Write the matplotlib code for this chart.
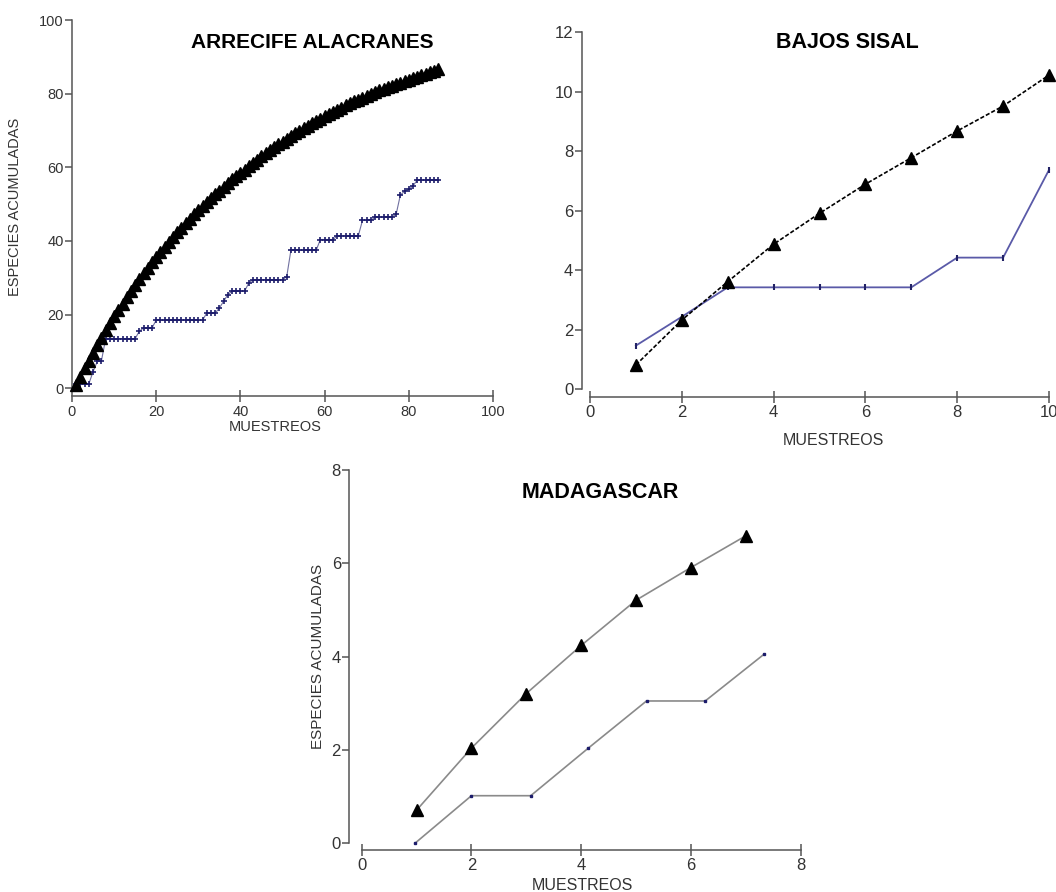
import matplotlib
matplotlib.use('Agg')
import matplotlib.pyplot as plt

plt.rcParams['font.family'] = ['Liberation Sans', 'DejaVu Sans']

# ---- ARRECIFE ALACRANES ----
alac_x = list(range(1, 88))
alac_est = [1.0, 3.2, 5.4, 7.5, 9.6, 11.7, 13.7, 15.7, 17.6, 19.5,
            21.3, 23.0, 24.7, 26.4, 28.0, 29.6, 31.2, 32.7, 34.2, 35.7,
            37.1, 38.5, 39.8, 41.1, 42.4, 43.6, 44.8, 46.0, 47.2, 48.4,
            49.5, 50.6, 51.7, 52.7, 53.7, 54.7, 55.7, 56.7, 57.6, 58.5,
            59.4, 60.3, 61.2, 62.1, 63.0, 63.8, 64.6, 65.4, 66.2, 67.0,
            67.8, 68.5, 69.2, 69.9, 70.6, 71.3, 72.0, 72.6, 73.2, 73.8,
            74.4, 75.0, 75.6, 76.2, 76.8, 77.4, 77.9, 78.4, 78.9, 79.4,
            79.9, 80.4, 80.9, 81.4, 81.8, 82.2, 82.6, 83.0, 83.4, 83.8,
            84.2, 84.6, 85.0, 85.4, 85.8, 86.2, 86.6]
alac_obs = [1.2, 1.2, 1.2, 1.2, 4.5, 7.3, 7.5, 13.5, 13.5, 13.5,
            13.5, 13.5, 13.5, 13.5, 13.5, 15.5, 16.4, 16.4, 16.4, 18.5,
            18.5, 18.5, 18.5, 18.5, 18.5, 18.5, 18.5, 18.5, 18.5, 18.5,
            18.5, 20.4, 20.4, 20.4, 21.8, 23.6, 25.4, 26.4, 26.4, 26.4,
            26.4, 28.6, 29.5, 29.5, 29.5, 29.5, 29.5, 29.5, 29.5, 29.5,
            30.3, 37.5, 37.5, 37.5, 37.5, 37.5, 37.5, 37.5, 40.4, 40.4,
            40.4, 40.4, 41.4, 41.4, 41.4, 41.4, 41.4, 41.4, 45.6, 45.6,
            45.6, 46.5, 46.5, 46.5, 46.5, 46.5, 47.3, 52.5, 53.5, 54.0,
            55.0, 56.5, 56.5, 56.5, 56.5, 56.5, 56.5]

# ---- BAJOS SISAL ----
sisal_x = [1, 2, 3, 4, 5, 6, 7, 8, 9, 10]
sisal_est = [0.81, 2.32, 3.61, 4.87, 5.91, 6.89, 7.78, 8.68, 9.52, 10.56]
sisal_obs = [1.46, 2.43, 3.42, 3.42, 3.42, 3.42, 3.42, 4.42, 4.42, 7.37]

# ---- MADAGASCAR ----
mada_x_est = [1, 2, 3, 4, 5, 6, 7]
mada_est = [0.71, 2.04, 3.21, 4.24, 5.21, 5.91, 6.59]
mada_x_obs = [0.97, 2.0, 3.08, 4.13, 5.19, 6.26, 7.33]
mada_obs = [0.0, 1.02, 1.02, 2.04, 3.05, 3.05, 4.05]

W, H = 1056, 892
fig = plt.figure(figsize=(W / 100, H / 100), dpi=100)


def rect(x0, x1, ytop, y0):
    return [x0 / W, 1 - y0 / H, (x1 - x0) / W, (y0 - ytop) / H]


def style(ax, xmax, ymax, xstep, ystep, xoff, yoff, fs):
    ax.set_xlim(0, xmax)
    ax.set_ylim(0, ymax)
    for s in ['top', 'right']:
        ax.spines[s].set_visible(False)
    ax.spines['bottom'].set_position(('outward', xoff * 0.72))
    ax.spines['left'].set_position(('outward', yoff * 0.72))
    ax.spines['bottom'].set_bounds(0, xmax)
    ax.spines['left'].set_bounds(0, ymax)
    for s in ['bottom', 'left']:
        ax.spines[s].set_color('#555555')
        ax.spines[s].set_linewidth(1.1)
    ax.set_xticks(range(0, xmax + 1, xstep))
    ax.set_yticks(range(0, ymax + 1, ystep))
    ax.tick_params(axis='x', direction='inout', length=8, width=1.1,
                   color='#555555', labelcolor='#333333', labelsize=fs, pad=2)
    ax.tick_params(axis='y', direction='out', length=5, width=1.1,
                   color='#555555', labelcolor='#333333', labelsize=fs, pad=1)
    ax.patch.set_alpha(0)


def ftext(x, y, s, **kw):
    fig.text(x / W, 1 - y / H, s, ha='center', va='center', **kw)


# panel 1
ax1 = fig.add_axes(rect(72, 493, 20, 388.3))
style(ax1, 100, 100, 20, 20, 8, 0, 10.5)
ax1.plot(alac_x, alac_obs, color='#7070a0', lw=0.8, marker='+', ms=4,
         mew=1.2, mec='#1c1c6b', clip_on=False, zorder=2)
ax1.plot(alac_x, alac_est, color='black', lw=1.2, marker='^', ms=9,
         mfc='black', mec='black', clip_on=False, zorder=3)
ftext(312, 42, 'ARRECIFE ALACRANES', fontsize=15, fontweight='bold')
ftext(15, 207, 'ESPECIES ACUMULADAS', fontsize=10.5, color='#333333', rotation=90)
ftext(275, 427, 'MUESTREOS', fontsize=10.5, color='#333333')

# panel 2
ax2 = fig.add_axes(rect(590, 1049, 32.3, 389))
style(ax2, 10, 12, 2, 2, 7.7, 8.3, 12)
ax2.plot(sisal_x, sisal_obs, color='#5a5aa8', lw=1.3, marker='|', ms=5,
         mew=1.5, mec='#222266', clip_on=False, zorder=2)
ax2.plot(sisal_x, sisal_est, color='black', lw=1.2, ls=(0, (2.5, 1.2)),
         marker='^', ms=8, mfc='black', mec='black', clip_on=False, zorder=3)
ftext(847, 42, 'BAJOS SISAL', fontsize=15.5, fontweight='bold')
ftext(833, 441, 'MUESTREOS', fontsize=11.5, color='#333333')

# panel 3
ax3 = fig.add_axes(rect(361.7, 800.7, 470, 843.3))
style(ax3, 8, 8, 2, 2, 6.7, 12.4, 12)
ax3.plot(mada_x_obs, mada_obs, color='#8a8a8a', lw=1.2, marker='s', ms=1.8,
         mfc='#1c1c6b', mec='#1c1c6b', clip_on=False, zorder=2)
ax3.plot(mada_x_est, mada_est, color='#8a8a8a', lw=1.2, marker='^', ms=8.5,
         mfc='black', mec='black', clip_on=False, zorder=3)
ftext(600, 493, 'MADAGASCAR', fontsize=15.5, fontweight='bold')
ftext(318, 656, 'ESPECIES ACUMULADAS', fontsize=11, color='#333333', rotation=90)
ftext(582, 885, 'MUESTREOS', fontsize=11.5, color='#333333')

fig.savefig('out.png', dpi=100)
